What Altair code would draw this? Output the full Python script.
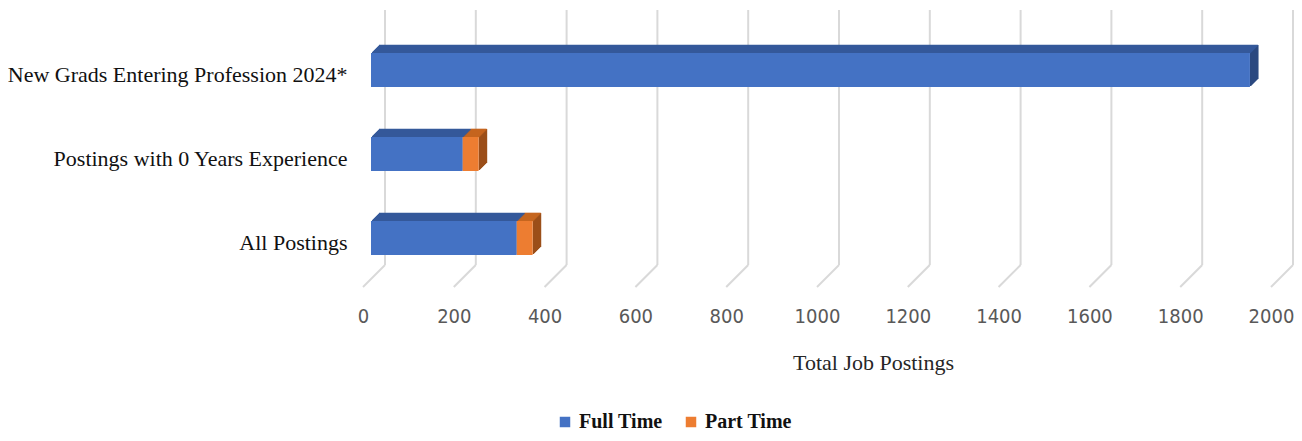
import altair as alt
import pandas as pd

categories = ["New Grads Entering Profession 2024*", "Postings with 0 Years Experience", "All Postings"]
full_time = [1936, 202, 321]
part_time = [0, 35, 35]
series = ["Full Time", "Part Time"]
tick_values = [0, 200, 400, 600, 800, 1000, 1200, 1400, 1600, 1800, 2000]

front_colors = ["#4472C4", "#ED7D31"]
top_colors = ["#34599A", "#C5651F"]
side_colors = ["#2C4A80", "#9B4F19"]

rows = []
for c, ft, pt in zip(categories, full_time, part_time):
    rows.append({"category": c, "series": "Full Time", "start": 0, "end": ft, "value": ft})
    rows.append({"category": c, "series": "Part Time", "start": ft, "end": ft + pt, "value": pt})
bars = pd.DataFrame(rows)
bars = bars[bars["value"] > 0]
ticks = pd.DataFrame({"t": tick_values})

W, H = 908, 255
DEPTH = 8
xscale = alt.Scale(domain=[0, 2000], nice=False, zero=False)
yscale = alt.Scale(domain=categories, paddingInner=0.595, paddingOuter=0.3155, align=0.811)

xaxis = alt.Axis(values=tick_values, format="d", grid=False, ticks=False, domain=False,
                 labelOffset=-8, labelPadding=41, labelFlush=False, labelOverlap=False,
                 labelFont="Liberation Sans Narrow, DejaVu Sans Condensed, Roboto Condensed, Roboto, sans-serif",
                 labelFontSize=20, labelColor="#595959",
                 title="Total Job Postings", titleFont="Liberation Serif",
                 titleFontSize=22, titleFontWeight="normal", titleColor="#262626",
                 titleX=502, titleY=104, titleBaseline="alphabetic")
yaxis = alt.Axis(title=None, ticks=False, domain=False, grid=False,
                 labelFont="Liberation Serif", labelFontSize=22, labelColor="#111111",
                 labelPadding=24, labelOffset=5, labelLimit=400)

grid_v = alt.Chart(ticks).mark_rule(color="#D9D9D9", strokeWidth=2, xOffset=14).encode(
    x=alt.X("t:Q", scale=xscale, axis=xaxis),
    y=alt.value(0), y2=alt.value(H),
)
grid_d = alt.Chart(ticks).mark_rule(color="#D9D9D9", strokeWidth=2, xOffset=14, x2Offset=-8).encode(
    x=alt.X("t:Q", scale=xscale, axis=xaxis),
    x2="t:Q",
    y=alt.value(H), y2=alt.value(H + 22),
)

layers = [grid_v, grid_d]
base = alt.Chart(bars)
side_color = alt.Color("series:N", scale=alt.Scale(domain=series, range=side_colors), legend=None)
top_color = alt.Color("series:N", scale=alt.Scale(domain=series, range=top_colors), legend=None)

# extruded side faces (stepped oblique projection)
for i in range(1, DEPTH + 1):
    layers.append(base.mark_bar(xOffset=i - 1, x2Offset=i + 0.6, yOffset=-i).encode(
        x=alt.X("end:Q", scale=xscale, axis=xaxis),
        x2="end:Q",
        y=alt.Y("category:N", scale=yscale, axis=yaxis),
        color=side_color,
    ))
# extruded top faces
for i in range(1, DEPTH + 1):
    layers.append(base.mark_bar(height=1.6, xOffset=i, x2Offset=i, yOffset=-17 - i + 0.5).encode(
        x=alt.X("start:Q", scale=xscale, axis=xaxis),
        x2="end:Q",
        y=alt.Y("category:N", scale=yscale, axis=yaxis),
        color=top_color,
    ))

front = base.mark_bar().encode(
    x=alt.X("start:Q", scale=xscale, axis=xaxis),
    x2="end:Q",
    y=alt.Y("category:N", scale=yscale, sort=categories, axis=yaxis),
    color=alt.Color("series:N", scale=alt.Scale(domain=series, range=front_colors),
                    legend=alt.Legend(title=None, orient="none", direction="horizontal",
                                      legendX=184, legendY=402, symbolType="square",
                                      symbolSize=110, symbolStrokeWidth=0,
                                      labelFont="Liberation Serif", labelFontSize=20,
                                      labelFontWeight="bold", labelColor="#111111",
                                      labelOffset=4, columnPadding=18)),
)
layers.append(front)

chart = alt.layer(*layers).resolve_scale(color="independent").properties(
    width=W, height=H,
    autosize=alt.AutoSizeParams(type="none"),
    padding={"left": 363, "top": 2, "right": 15, "bottom": 168},
).configure_view(stroke=None)

chart.save("out.html", embed_options={"renderer": "svg", "actions": False})
